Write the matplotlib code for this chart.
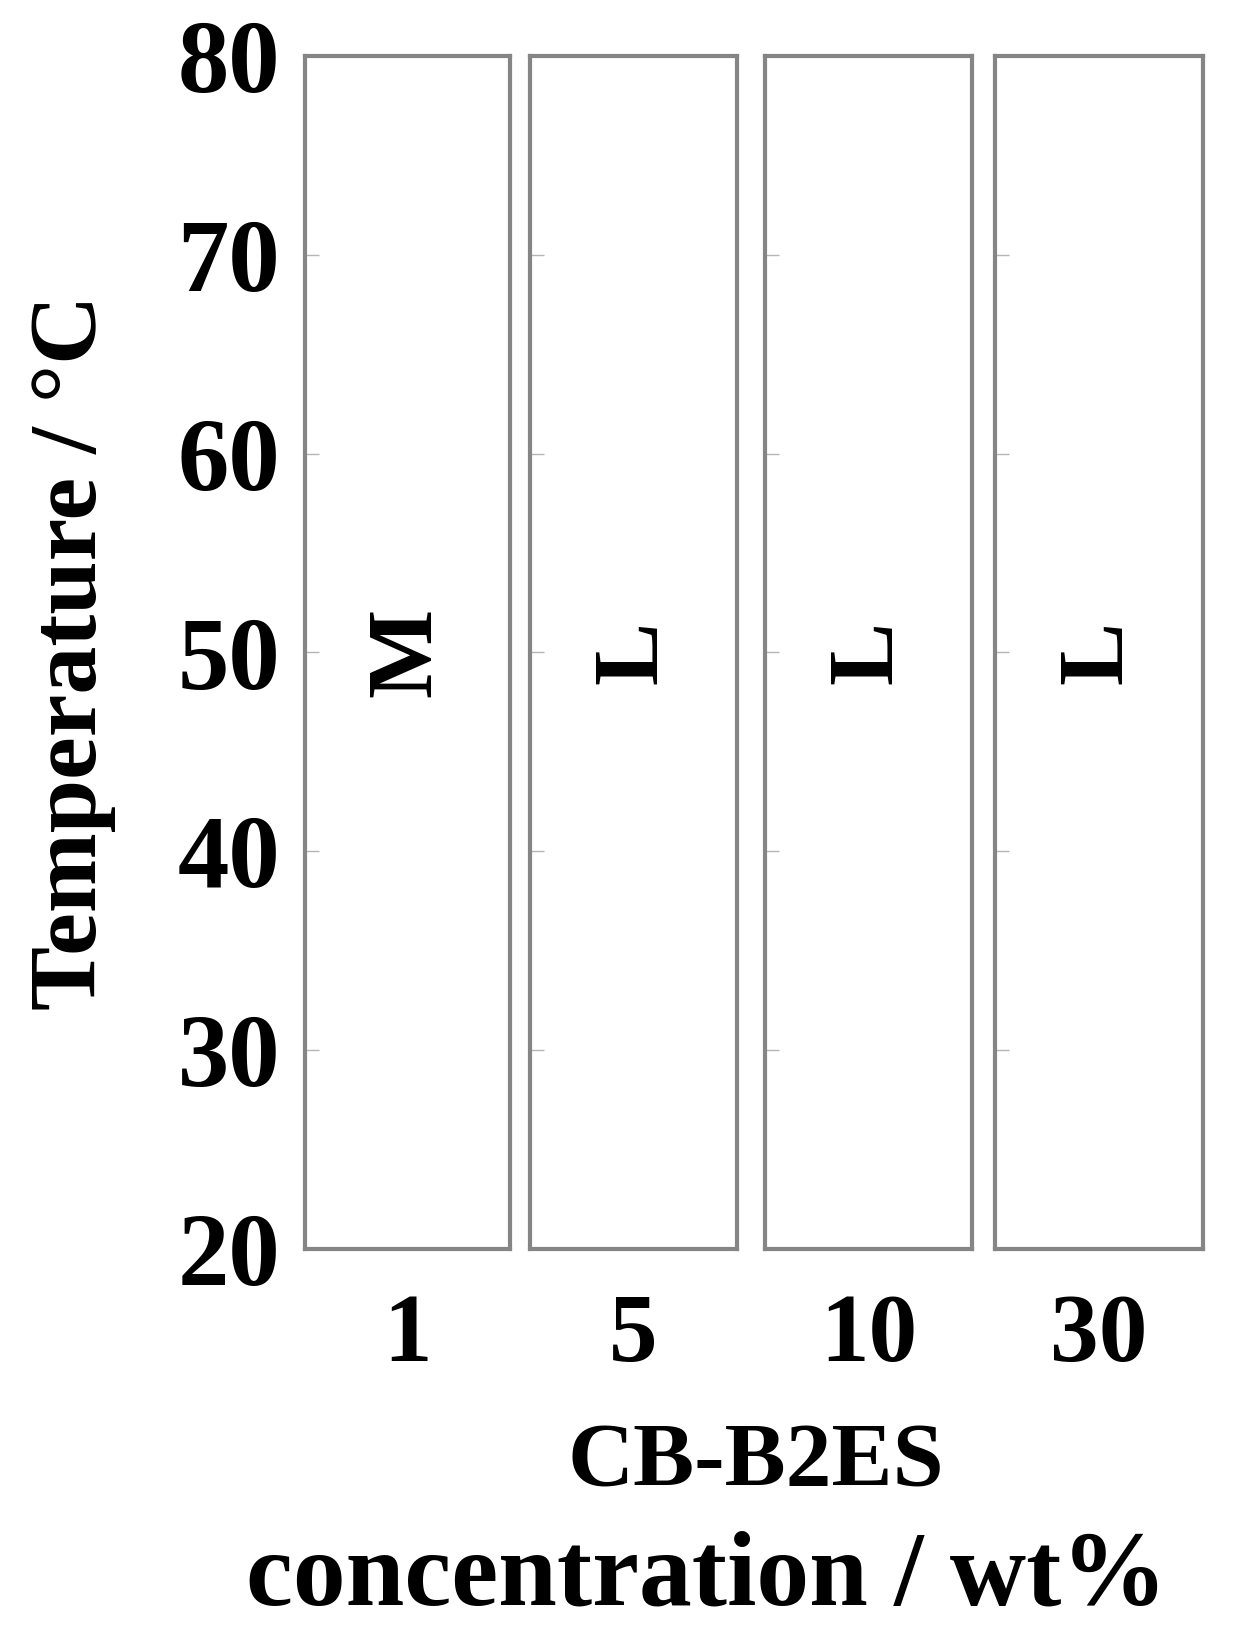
import matplotlib.pyplot as plt

# Data
concentrations = ["1", "5", "10", "30"]
phases = ["M", "L", "L", "L"]
t_min = 20
t_max = 80
y_ticks = [20, 30, 40, 50, 60, 70, 80]

plt.rcParams['font.family'] = ['Liberation Serif', 'DejaVu Serif']
plt.rcParams['font.weight'] = 'bold'

W, H = 1235, 1646
fig = plt.figure(figsize=(W / 100, H / 100), dpi=100)

# panel pixel extents (left, right), top/bottom
panels_px = [(305, 510), (530, 737), (765, 972), (995, 1203)]
top_px, bot_px = 56, 1249
edge = '#858585'

for i, (x0, x1) in enumerate(panels_px):
    ax = fig.add_axes([x0 / W, 1 - bot_px / H, (x1 - x0) / W, (bot_px - top_px) / H])
    ax.set_xlim(0, 1)
    ax.set_ylim(t_min, t_max)
    for s in ax.spines.values():
        s.set_color(edge)
        s.set_linewidth(3.0)
    ax.set_yticks(y_ticks)
    ax.tick_params(axis='y', direction='in', length=10, width=1.0, color='#b5b5b5',
                   labelsize=74, pad=18)
    if i > 0:
        ax.set_yticklabels([])
    ax.set_xticks([0.5])
    ax.set_xticklabels([concentrations[i]])
    ax.tick_params(axis='x', length=0, labelsize=70, pad=32)
    ax.text(0.5, (t_min + t_max) / 2, phases[i], rotation=90, ha='center', va='center',
            fontsize=68, fontweight='bold')
    if i == 0:
        ax.set_ylabel('Temperature / °C', fontsize=69, fontweight='bold')
        ax.yaxis.set_label_coords(-0.92, 0.5)

fig.text(756 / W, 1 - 1486 / H, 'CB-B2ES', ha='center', va='baseline', fontsize=66,
         fontweight='bold')
fig.text(706 / W, 1 - 1604 / H, 'concentration / wt%', ha='center', va='baseline',
         fontsize=76, fontweight='bold')

fig.savefig('out.png', dpi=100)
